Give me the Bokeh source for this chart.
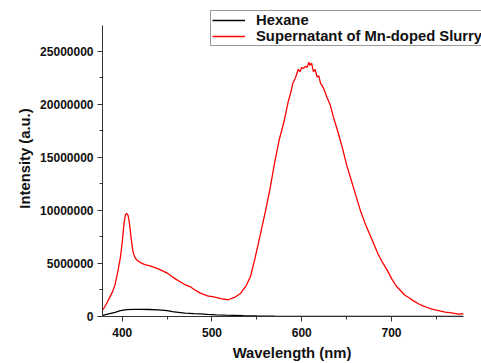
from bokeh.plotting import figure
from bokeh.models import FixedTicker, BasicTickFormatter, Legend, LegendItem
from bokeh.embed import file_html
from bokeh.resources import INLINE

# ---- data (intensity in a.u.) ----
hex_wl = [378, 385, 392, 398, 405, 413, 420, 430, 440, 450, 456, 460, 465, 470,
          480, 487, 495, 505, 515, 524, 535, 550, 570, 600, 650, 700, 780]
hex_int = [100000, 250000, 400000, 550000, 640000, 680000, 670000, 660000, 630000,
           560000, 460000, 420000, 370000, 320000, 270000, 240000, 200000, 160000,
           130000, 110000, 80000, 50000, 30000, 10000, 0, 0, 0]

slurry_wl = [378, 380, 383, 386, 389, 392, 395, 398, 400, 402, 403.5, 405, 406.5,
             408, 410, 412, 414, 416, 420, 425, 430, 435, 440, 445, 450, 455, 460,
             465, 470, 476, 480, 487, 495, 502, 510, 518, 525, 532, 538, 543, 548,
             554, 560, 565, 570, 575, 580, 585, 588, 590, 593, 596, 598, 600, 602,
             604, 606, 608, 609, 611, 613, 615, 617, 619, 621, 624, 628, 632, 635,
             640, 643, 645, 650, 655, 660, 665, 670, 675, 680, 685, 690, 695, 700,
             705, 710, 715, 720, 725, 730, 735, 740, 745, 750, 755, 760, 765, 770,
             775, 780]
slurry_int = [600000, 850000, 1300000, 1800000, 2300000, 3000000, 4200000, 5600000,
              7000000, 8800000, 9600000, 9720000, 9550000, 8800000, 7300000, 6100000,
              5600000, 5350000, 5100000, 4900000, 4800000, 4650000, 4500000, 4300000,
              4100000, 3800000, 3500000, 3250000, 3000000, 2800000, 2550000, 2200000,
              1950000, 1850000, 1680000, 1580000, 1800000, 2200000, 2900000, 3800000,
              5500000, 7800000, 10100000, 12200000, 14600000, 16700000, 18300000,
              20300000, 21200000, 22000000, 22500000, 23300000, 23100000, 23500000,
              23400000, 23600000, 23500000, 24000000, 23700000, 23900000, 23100000,
              23300000, 22600000, 22700000, 22000000, 21600000, 20700000, 19900000,
              18900000, 17500000, 16600000, 16000000, 14300000, 12900000, 11500000,
              10100000, 8900000, 7900000, 6900000, 5900000, 5100000, 4400000,
              3600000, 2900000, 2450000, 2000000, 1750000, 1450000, 1200000,
              1000000, 850000, 700000, 600000, 500000, 420000, 360000, 300000,
              220000, 260000]

x_ticks = [400, 500, 600, 700]
x_minor = [450, 550, 650, 750]
y_ticks = [0, 5000000, 10000000, 15000000, 20000000, 25000000]
y_minor = [2500000, 7500000, 12500000, 17500000, 22500000]

series_names = ["Hexane", "Supernatant of Mn-doped Slurry"]
series_colors = ["#000000", "#ff0000"]

FONT = "Liberation Sans"

# frame spans to the top and right canvas edges; axes are bounded to the data box
p = figure(width=481, height=363, output_backend="svg", toolbar_location=None,
           x_range=(378.0, 800.3), y_range=(0, 29810000),
           min_border_left=102, min_border_right=0, min_border_top=0,
           min_border_bottom=47)
p.outline_line_color = None
p.xgrid.visible = False
p.ygrid.visible = False
p.background_fill_color = "white"
p.border_fill_color = "white"

r1 = p.line(hex_wl, hex_int, line_color=series_colors[0], line_width=1.3)
r2 = p.line(slurry_wl, slurry_int, line_color=series_colors[1], line_width=1.3)

p.xaxis.ticker = FixedTicker(ticks=x_ticks, minor_ticks=x_minor)
p.yaxis.ticker = FixedTicker(ticks=y_ticks, minor_ticks=y_minor)
p.yaxis.formatter = BasicTickFormatter(use_scientific=False)
p.xaxis.bounds = (378.0, 780.5)
p.yaxis.bounds = (0, 27450000)

for ax in (p.xaxis[0], p.yaxis[0]):
    ax.axis_line_color = "#333333"
    ax.axis_line_width = 1
    ax.major_tick_line_color = "#333333"
    ax.minor_tick_line_color = "#333333"
    ax.major_tick_in = 0
    ax.major_tick_out = 5
    ax.minor_tick_in = 0
    ax.minor_tick_out = 3
    ax.major_label_text_font = FONT
    ax.major_label_text_font_style = "bold"
    ax.major_label_text_font_size = "12px"
    ax.major_label_text_color = "#111111"
    ax.axis_label_text_font = FONT
    ax.axis_label_text_font_style = "bold"
    ax.axis_label_text_font_size = "14.8px"
    ax.axis_label_text_color = "#111111"

p.xaxis.axis_label = "Wavelength (nm)"
p.yaxis.axis_label = "Intensity (a.u.)"
p.xaxis.major_label_standoff = 6
p.yaxis.major_label_standoff = 4
p.xaxis.axis_label_standoff = 5
p.yaxis.axis_label_standoff = 4

legend = Legend(items=[LegendItem(label=series_names[0], renderers=[r1]),
                       LegendItem(label=series_names[1], renderers=[r2])],
                location=(108, 270), orientation="vertical")
legend.label_text_font = FONT
legend.label_text_font_style = "bold"
legend.label_text_font_size = "14.8px"
legend.label_text_color = "#111111"
legend.glyph_width = 33
legend.glyph_height = 16
legend.label_height = 16
legend.label_standoff = 11
legend.spacing = 0
legend.padding = 1
legend.margin = 0
legend.border_line_color = "#333333"
legend.border_line_width = 1
legend.background_fill_color = "white"
legend.background_fill_alpha = 1
p.add_layout(legend, "center")

open("out.html", "w").write(file_html(p, INLINE))
